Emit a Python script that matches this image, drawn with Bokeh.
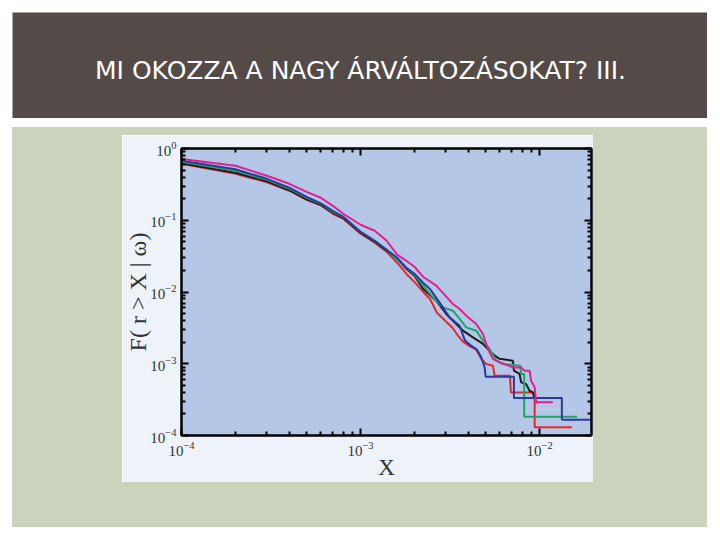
from bokeh.plotting import figure
from bokeh.layouts import column, row
from bokeh.models import (Range1d, LogAxis, FixedTicker, LogTickFormatter, Spacer,
                          CustomJSTickFormatter)
from bokeh.core.properties import value
from bokeh.embed import file_html
from bokeh.resources import INLINE

TITLE = "MI OKOZZA A NAGY ÁRVÁLTOZÁSOKAT? III."
X_LABEL = "X"
Y_LABEL = "F( r > X | ω)"
X_MAJOR = [1e-4, 1e-3, 1e-2]
Y_MAJOR = [1e-4, 1e-3, 1e-2, 1e-1, 1e0]
X_MINOR = [m * 10.0 ** e for e in (-4, -3, -2) for m in range(2, 10) if m * 10.0 ** e < 0.0195]
Y_MINOR = [m * 10.0 ** e for e in (-4, -3, -2, -1) for m in range(2, 10)]

# ---- series ----
magenta_x = [1.0e-4, 2.0e-4, 3.0e-4, 4.0e-4, 5.0e-4, 6.0e-4, 7.0e-4, 8.0e-4, 1.0e-3, 1.2e-3,
             1.4e-3, 1.6e-3, 1.8e-3, 2.0e-3, 2.233e-3, 2.648e-3, 3.012e-3, 3.282e-3, 3.578e-3,
             3.895e-3, 4.43e-3, 4.827e-3, 5.035e-3, 5.26e-3, 5.488e-3, 5.982e-3, 7.1e-3, 7.89e-3,
             8.245e-3, 8.793e-3, 8.975e-3, 9.39e-3, 9.57e-3, 1.186e-2]
magenta_y = [0.712, 0.574, 0.417, 0.322, 0.249, 0.206, 0.159, 0.1231, 0.0866, 0.0714,
             0.0518, 0.0331, 0.0273, 0.0225, 0.01633, 0.01224, 0.0086, 0.0068, 0.0058,
             0.00468, 0.00358, 0.0026, 0.00189, 0.00144, 0.00117, 0.00105, 0.00089, 0.00089,
             0.0008, 0.0008, 0.00058, 0.00047, 0.00029, 0.00029]

green_x = [1.0e-4, 2.0e-4, 3.0e-4, 4.0e-4, 5.0e-4, 6.0e-4, 7.0e-4, 8.0e-4, 1.0e-3, 1.2e-3,
           1.4e-3, 1.6e-3, 1.8e-3, 2.0e-3, 2.233e-3, 2.539e-3, 2.887e-3, 3.282e-3, 3.578e-3,
           3.895e-3, 4.43e-3, 4.827e-3, 5.26e-3, 5.726e-3, 6.241e-3, 7.79e-3, 7.89e-3,
           8.2e-3, 8.2e-3, 1.621e-2]
green_y = [0.653, 0.489, 0.366, 0.275, 0.206, 0.170, 0.1313, 0.1119, 0.0692, 0.0518,
           0.0388, 0.0282, 0.0218, 0.0174, 0.01224, 0.00841, 0.0061, 0.00549, 0.00421,
           0.00321, 0.00289, 0.0021, 0.00161, 0.0011, 0.00099, 0.00094, 0.00072,
           0.00072, 0.000183, 0.000183]

black_x = [1.0e-4, 2.0e-4, 3.0e-4, 4.0e-4, 5.0e-4, 6.0e-4, 7.0e-4, 8.0e-4, 1.0e-3, 1.2e-3,
           1.4e-3, 1.6e-3, 1.8e-3, 2.0e-3, 2.233e-3, 2.648e-3, 3.012e-3, 3.424e-3, 3.733e-3,
           4.245e-3, 4.827e-3, 5.26e-3, 5.609e-3, 5.982e-3, 7.1e-3, 7.19e-3, 7.735e-3,
           7.89e-3, 8.416e-3, 8.793e-3, 9.175e-3, 9.35e-3]
black_y = [0.622, 0.459, 0.349, 0.262, 0.196, 0.164, 0.1272, 0.1083, 0.067, 0.0502,
           0.0376, 0.0291, 0.0211, 0.01687, 0.01112, 0.00756, 0.00494, 0.00358, 0.00289,
           0.00233, 0.00189, 0.00152, 0.0013, 0.00117, 0.0011, 0.0008, 0.00072,
           0.00055, 0.00052, 0.00042, 0.0004, 0.000327]

blue_x = [1.0e-4, 2.0e-4, 3.0e-4, 4.0e-4, 5.0e-4, 6.0e-4, 7.0e-4, 8.0e-4, 1.0e-3, 1.2e-3,
          1.4e-3, 1.6e-3, 1.8e-3, 2.0e-3, 2.233e-3, 2.433e-3, 2.767e-3, 3.146e-3, 3.578e-3,
          3.83e-3, 4.137e-3, 4.47e-3, 4.723e-3, 4.934e-3, 4.998e-3, 7.19e-3, 7.19e-3,
          1.332e-2, 1.332e-2, 2.5e-2]
blue_y = [0.674, 0.513, 0.378, 0.284, 0.212, 0.172, 0.1356, 0.1119, 0.0692, 0.0518,
          0.0388, 0.0300, 0.0218, 0.0180, 0.01348, 0.01112, 0.0071, 0.00439, 0.00339,
          0.0021, 0.00179, 0.00157, 0.00123, 0.00089, 0.00066, 0.00066, 0.000334,
          0.000334, 0.000166, 0.000166]

red_x = [1.0e-4, 2.0e-4, 3.0e-4, 4.0e-4, 5.0e-4, 6.0e-4, 7.0e-4, 8.0e-4, 1.0e-3, 1.2e-3,
         1.4e-3, 1.6e-3, 1.8e-3, 2.0e-3, 2.233e-3, 2.44e-3, 2.673e-3, 3.012e-3, 3.282e-3,
         3.5e-3, 3.733e-3, 4.069e-3, 4.43e-3, 4.723e-3, 5.035e-3, 5.488e-3, 5.609e-3,
         6.83e-3, 6.918e-3, 9.39e-3, 9.39e-3, 1.514e-2]
red_y = [0.612, 0.444, 0.338, 0.258, 0.193, 0.162, 0.1231, 0.1049, 0.0649, 0.0486,
         0.0364, 0.0256, 0.0180, 0.0138, 0.0101, 0.00806, 0.00515, 0.00386, 0.00313,
         0.00246, 0.00203, 0.00176, 0.00157, 0.00117, 0.00099, 0.00094, 0.00068,
         0.00068, 0.000396, 0.000396, 0.00013, 0.00013]

SERIES = [
    (red_x, red_y, "#e8262e"),
    (black_x, black_y, "#1c1c1c"),
    (green_x, green_y, "#1fa36b"),
    (blue_x, blue_y, "#2b3a9e"),
    (magenta_x, magenta_y, "#e0208f"),
]

SERIF = "Liberation Serif"
WHITE_BOX = "#eef3fa"
GREEN = "#ccd3bd"
BANNER = "#544b48"
PLOT_BG = "#b4c7e7"
TEXT = "#333333"


def green_block(w, h):
    return Spacer(width=w, height=h, styles={"background-color": GREEN})


# ---- main chart (the white box) ----
p = figure(width=471, height=347, x_axis_type="log", y_axis_type="log",
           x_range=Range1d(1e-4, 0.0195), y_range=Range1d(1e-4, 1.0),
           output_backend="svg", toolbar_location=None, tools="",
           min_border_left=56, min_border_right=2, min_border_top=13, min_border_bottom=47,
           background_fill_color=PLOT_BG, border_fill_color=WHITE_BOX)
p.title.visible = False
p.grid.visible = False
p.outline_line_color = "black"
p.outline_line_width = 2

bottom_axis = p.below[0]
left_axis = p.left[0]
top_axis = LogAxis()
right_axis = LogAxis()
p.add_layout(top_axis, "above")
p.add_layout(right_axis, "right")

for ax, major, minor in [(bottom_axis, X_MAJOR, X_MINOR), (top_axis, X_MAJOR, X_MINOR),
                         (left_axis, Y_MAJOR, Y_MINOR), (right_axis, Y_MAJOR, Y_MINOR)]:
    ax.ticker = FixedTicker(ticks=major, minor_ticks=minor)
    ax.axis_line_color = "black"
    ax.axis_line_width = 2
    ax.major_tick_line_color = "black"
    ax.major_tick_line_width = 2
    ax.minor_tick_line_color = "black"
    ax.minor_tick_line_width = 2
    ax.major_tick_in = 7
    ax.major_tick_out = 0
    ax.minor_tick_in = 4
    ax.minor_tick_out = 0
    ax.major_label_text_font = SERIF
    ax.major_label_text_font_size = "15px"
    ax.major_label_text_color = TEXT
    ax.axis_label_text_font = SERIF
    ax.axis_label_text_font_style = "normal"
    ax.axis_label_text_color = TEXT

for ax in (bottom_axis, left_axis):
    ax.formatter = LogTickFormatter()
for ax in (top_axis, right_axis):
    ax.formatter = CustomJSTickFormatter(code="return ''")
    ax.major_label_standoff = 0

bottom_axis.axis_label = X_LABEL
bottom_axis.axis_label_text_font_size = "23px"
bottom_axis.major_label_standoff = 6
bottom_axis.axis_label_standoff = -4

left_axis.axis_label = Y_LABEL
left_axis.axis_label_text_font_size = "24px"
left_axis.major_label_standoff = 5
left_axis.axis_label_standoff = -4

for xs, ys, c in SERIES:
    p.line(xs, ys, line_color=c, line_width=2)

# ---- banner ----
banner = figure(width=695, height=106, output_backend="svg", toolbar_location=None, tools="",
                x_axis_location=None, y_axis_location=None, min_border=0,
                x_range=Range1d(0, 695), y_range=Range1d(0, 106),
                background_fill_color=BANNER, border_fill_color=BANNER, outline_line_color=None)
banner.grid.visible = False
banner.title.visible = False
banner.text(x=[348], y=[48], text=[TITLE], text_align="center", text_baseline="middle",
            text_font=value("DejaVu Sans"), text_font_size="25px", text_color="white")

green_panel = column(
    green_block(695, 8),
    row(green_block(110, 347), p, green_block(114, 347)),
    green_block(695, 45),
)

page = column(
    Spacer(width=720, height=12),
    row(Spacer(width=12, height=106), banner),
    Spacer(width=720, height=9),
    row(Spacer(width=12, height=400), green_panel),
)

open("out.html", "w").write(file_html(page, INLINE))
